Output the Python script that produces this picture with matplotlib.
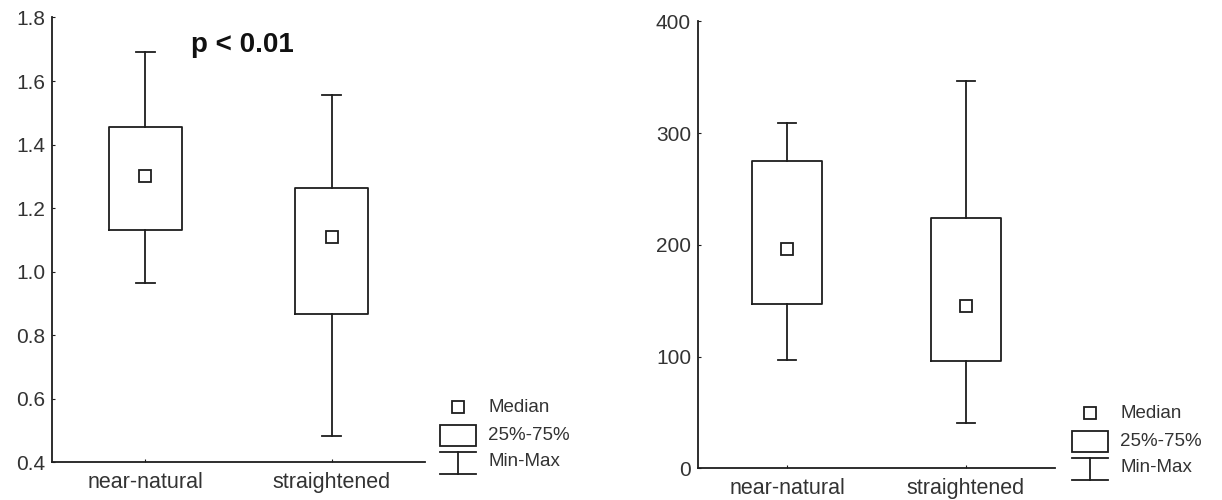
import matplotlib.pyplot as plt
from matplotlib.patches import Rectangle
from matplotlib.lines import Line2D

plt.rcParams['font.family'] = ['Liberation Sans', 'DejaVu Sans']

groups = ['near-natural', 'straightened']

# left panel: min, q1, median, q3, max
left_min = [0.965, 0.483]
left_q1 = [1.13, 0.867]
left_med = [1.30, 1.11]
left_q3 = [1.455, 1.262]
left_max = [1.69, 1.557]

# right panel
right_min = [97, 41]
right_q1 = [147, 96]
right_med = [196, 145]
right_q3 = [275, 224]
right_max = [309, 347]

W, H = 1222, 500
INK = '#1e1e1e'
TXT = '#333333'
LW = 1.3


def px(x, y):
    return x / W, 1 - y / H


def draw_box(ax, mins, q1s, meds, q3s, maxs, ylim, yticks, ylabels):
    stats = []
    for lo, a, m, b, hi in zip(mins, q1s, meds, q3s, maxs):
        stats.append(dict(whislo=lo, q1=a, med=m, q3=b, whishi=hi, fliers=[]))
    pos = [1, 2]
    ax.bxp(stats, positions=pos, widths=0.39, capwidths=0.1, showfliers=False,
           boxprops=dict(color=INK, lw=LW),
           whiskerprops=dict(color=INK, lw=LW),
           capprops=dict(color=INK, lw=LW),
           medianprops=dict(visible=False))
    ax.plot(pos, meds, 's', ms=8.5, mfc='white', mec=INK, mew=LW, zorder=5)
    ax.set_xlim(0.5, 2.5)
    ax.set_ylim(*ylim)
    ax.set_xticks(pos)
    ax.set_xticklabels(groups, fontsize=15.5, color=TXT)
    ax.set_yticks(yticks)
    ax.set_yticklabels(ylabels, fontsize=15, color=TXT)
    for s in ('top', 'right'):
        ax.spines[s].set_visible(False)
    for s in ('left', 'bottom'):
        ax.spines[s].set_color(INK)
        ax.spines[s].set_linewidth(LW)
    ax.tick_params(axis='y', direction='in', length=2, pad=5, colors=INK,
                   labelcolor=TXT)
    ax.tick_params(axis='x', direction='in', length=2, pad=7, colors=INK,
                   labelcolor=TXT)


def draw_key(fig, x0, y0):
    # median marker
    fig.add_artist(Line2D([px(x0 + 18, y0)[0]], [px(x0 + 18, y0)[1]],
                          marker='s', ms=9, mfc='white', mec=INK, mew=LW,
                          transform=fig.transFigure))
    # quartile box
    bx, by = px(x0, y0 + 39)
    fig.add_artist(Rectangle((bx, by), 36 / W, 21 / H, fill=False, ec=INK,
                             lw=LW, transform=fig.transFigure))
    # whisker symbol
    for yy in (y0 + 45, y0 + 67):
        a, b = px(x0, yy), px(x0 + 36, yy)
        fig.add_artist(Line2D([a[0], b[0]], [a[1], b[1]], color=INK, lw=LW,
                              transform=fig.transFigure))
    a, b = px(x0 + 18, y0 + 45), px(x0 + 18, y0 + 67)
    fig.add_artist(Line2D([a[0], b[0]], [a[1], b[1]], color=INK, lw=LW,
                          transform=fig.transFigure))
    for dy, label in ((0, 'Median'), (28, '25%-75%'), (55, 'Min-Max')):
        tx, ty = px(x0 + 48, y0 + dy)
        fig.text(tx, ty, label, fontsize=13.5, color=TXT, ha='left', va='center')


fig = plt.figure(figsize=(W / 100, H / 100), dpi=100)

ax1 = fig.add_axes([52 / W, 1 - 462.3 / H, (425 - 52) / W, (462.3 - 17.5) / H])
yt1 = [0.4, 0.6, 0.8, 1.0, 1.2, 1.4, 1.6, 1.8]
draw_box(ax1, left_min, left_q1, left_med, left_q3, left_max,
         (0.4, 1.8), yt1, [f'{v:.1f}' for v in yt1])
ax1.text(1.52, 1.713, 'p < 0.01', fontsize=20, fontweight='bold', color='#111111',
         ha='center', va='center')

ax2 = fig.add_axes([698 / W, 1 - 468.3 / H, (1055 - 698) / W, (468.3 - 21.5) / H])
yt2 = [0, 100, 200, 300, 400]
draw_box(ax2, right_min, right_q1, right_med, right_q3, right_max,
         (0, 400), yt2, [str(v) for v in yt2])

draw_key(fig, 440, 407)
draw_key(fig, 1072, 413)

fig.savefig('out.png', dpi=100, facecolor='white')
